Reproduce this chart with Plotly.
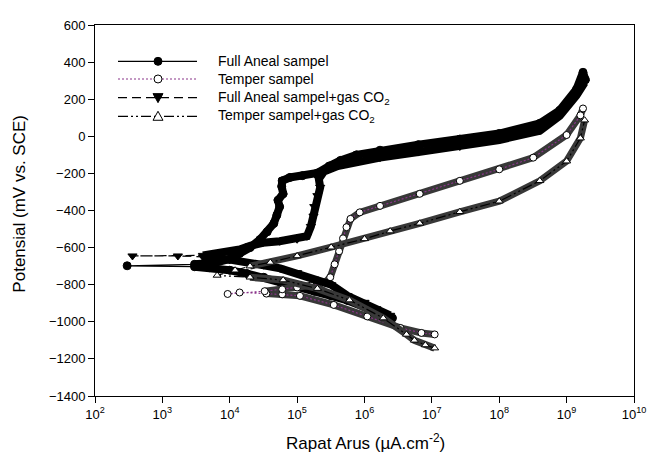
import plotly.graph_objects as go

# ---------------- data ----------------
# Current density in uA/cm^2, potential in mV vs SCE; scan order cathodic -> anodic
full_i = [2.6e6, 1.6e6, 1.0e6, 5.6e5, 3.2e5, 1.8e5, 1.0e5, 5.6e4, 3.2e4, 1.8e4, 1.0e4, 5.0e3, 3.0e3,
          3.0e2,
          3.0e3, 6.0e3, 1.0e4, 1.4e4, 2.0e4, 2.8e4, 3.6e4, 4.5e4, 5.0e4, 5.5e4, 5.2e4, 6.2e4, 5.9e4, 6.0e4,
          7.8e4, 1.2e5, 2.0e5, 3.0e5, 4.4e5, 7.6e5, 1.7e6, 6.3e6, 2.6e7, 1.0e8, 4.0e8, 7.9e8, 1.4e9, 1.75e9, 1.9e9]
full_E = [-980, -950, -915, -885, -860, -835, -810, -785, -760, -740, -722, -708, -703,
          -698,
          -690, -682, -662, -632, -600, -557, -515, -470, -425, -380, -345, -310, -270, -240,
          -222, -212, -198, -160, -130, -100, -75, -45, -15, 15, 70, 140, 254, 345, 305]

temper_i = [1.1e7, 7.0e6, 3.4e6, 1.1e6, 3.5e5, 1.1e5, 6.0e4, 3.5e4, 1.4e4,
            9.3e3,
            3.3e4, 6.0e4, 1.0e5, 1.6e5, 2.5e5, 3.1e5, 3.6e5, 4.2e5, 4.8e5, 5.4e5, 6.2e5, 8.5e5, 1.7e6,
            6.6e6, 2.6e7, 1.0e8, 3.2e8, 1.0e9, 1.6e9, 1.75e9]
temper_E = [-1068, -1060, -1033, -971, -909, -860, -852, -848, -842,
            -850,
            -835, -825, -815, -805, -795, -760, -690, -620, -550, -490, -445, -410, -375,
            -310, -240, -178, -115, 7, 113, 150]

fco2_i = [2.4e6, 1.5e6, 1.0e6, 5.6e5, 3.2e5, 1.8e5, 1.0e5, 5.6e4, 3.2e4, 2.0e4, 1.0e4, 6.0e3, 4.0e3, 1.7e3,
          3.6e2,
          4.0e3, 8.0e3, 1.4e4, 2.0e4, 3.1e4, 5.5e4, 1.0e5, 1.4e5, 1.6e5, 1.75e5, 1.8e5, 2.0e5, 2.2e5, 2.1e5,
          2.5e5, 4.0e5, 8.0e5, 1.7e6, 6.3e6, 2.6e7, 1.0e8, 4.0e8, 7.9e8, 1.4e9, 1.85e9]
fco2_E = [-965, -930, -895, -860, -800, -770, -735, -712, -695, -680, -665, -655, -650, -645,
          -645,
          -642, -630, -610, -590, -574, -566, -555, -539, -486, -430, -379, -320, -275, -230,
          -190, -160, -135, -115, -85, -55, -20, 30, 110, 220, 290]

tco2_i = [1.1e7, 8.0e6, 5.5e6, 4.2e6, 1.9e6, 6.0e5, 2.0e5, 6.2e4, 2.0e4,
          6.5e3,
          1.2e4, 2.0e4, 4.0e4, 1.0e5, 3.2e5, 1.0e6, 2.4e6, 6.6e6, 2.6e7, 1.0e8, 4.0e8, 1.0e9, 1.6e9, 1.85e9]
tco2_E = [-1142, -1125, -1100, -1068, -980, -883, -821, -775, -760,
          -750,
          -722, -700, -680, -645, -598, -553, -511, -469, -407, -350, -240, -134, -10, 87]

series_names = ["Full Aneal sampel", "Temper sampel",
                "Full Aneal sampel+gas CO<sub>2</sub>", "Temper sampel+gas CO<sub>2</sub>"]

x_tick_vals = [1e2, 1e3, 1e4, 1e5, 1e6, 1e7, 1e8, 1e9, 1e10]
x_tick_text = ["10<sup>2</sup>", "10<sup>3</sup>", "10<sup>4</sup>", "10<sup>5</sup>", "10<sup>6</sup>",
               "10<sup>7</sup>", "10<sup>8</sup>", "10<sup>9</sup>", "10<sup>10</sup>"]
y_tick_vals = [600, 400, 200, 0, -200, -400, -600, -800, -1000, -1200, -1400]

# ---------------- style ----------------
FONT = "Liberation Sans, Arial, sans-serif"
W, H = 661, 463
OFF = 8                      # page body margin offset
PL, PR, PT, PB = 95, 634, 18, 396   # plot area in page pixels
ML, MT = PL - OFF, PT - OFF
MR = W + OFF - PR
MB = H + OFF - PB
PW, PH = PR - PL, PB - PT

styles = [
    dict(sym="circle", dash="solid", lcolor="black", band="black", bw=8, thr=3e3),
    dict(sym="circle-open", dash="2px,2px", lcolor="#8a348a", band="#383838", bw=7, thr=3e4),
    dict(sym="triangle-down", dash="9px,5px", lcolor="black", band="black", bw=8, thr=4e3),
    dict(sym="triangle-up-open", dash="10px,3px,2px,3px,2px,3px", lcolor="black", band="#383838", bw=7, thr=1.5e4),
]
data = [(full_i, full_E), (temper_i, temper_E), (fco2_i, fco2_E), (tco2_i, tco2_E)]


def dense_part(xs, ys, thr):
    bx, by = [], []
    for x, y in zip(xs, ys):
        if x >= thr:
            bx.append(x)
            by.append(y)
        elif bx and bx[-1] is not None:
            bx.append(None)
            by.append(None)
    return bx, by


fig = go.Figure()
for (xs, ys), st, name in zip(data, styles, series_names):
    bx, by = dense_part(xs, ys, st["thr"])
    fig.add_trace(go.Scatter(x=bx, y=by, mode="lines", showlegend=False, hoverinfo="skip",
                             line=dict(color=st["band"], width=st["bw"]), connectgaps=False))
    open_sym = "open" in st["sym"]
    fig.add_trace(go.Scatter(
        x=xs, y=ys, mode="lines+markers", name=name, showlegend=False,
        line=dict(color=st["lcolor"], width=1.2, dash=st["dash"]),
        marker=dict(symbol=st["sym"].replace("-open", "") if open_sym else st["sym"],
                    size=8 if not open_sym else 7, color="white" if open_sym else "black",
                    line=dict(color="black", width=1))))

# ---------------- manual legend ----------------
def pxx(p):
    return (p - PL) / PW


def pxy(p):
    return (PB - p) / PH


rows = [55, 73, 92, 111]
shapes = []
annotations = []
tri_down = "M -5,4 L 5,4 L 0,-5 Z"
tri_up = "M -5,-4 L 5,-4 L 0,5 Z"
for r, st, name in zip(rows, styles, series_names):
    shapes.append(dict(type="line", xref="paper", yref="paper", x0=pxx(118), x1=pxx(197),
                       y0=pxy(r), y1=pxy(r), line=dict(color=st["lcolor"], width=1.2, dash=st["dash"])))
    fillc = "white" if "open" in st["sym"] else "black"
    if "circle" in st["sym"]:
        shapes.append(dict(type="circle", xref="paper", yref="paper", xsizemode="pixel", ysizemode="pixel",
                           xanchor=pxx(158), yanchor=pxy(r), x0=-4, x1=4, y0=-4, y1=4,
                           fillcolor=fillc, line=dict(color="black", width=1)))
    else:
        shapes.append(dict(type="path", xref="paper", yref="paper", xsizemode="pixel", ysizemode="pixel",
                           xanchor=pxx(158), yanchor=pxy(r),
                           path=tri_down if "down" in st["sym"] else tri_up,
                           fillcolor=fillc, line=dict(color="black", width=1)))
    annotations.append(dict(text=name, xref="paper", yref="paper", x=pxx(216), y=pxy(r),
                            xanchor="left", yanchor="middle", showarrow=False,
                            font=dict(family=FONT, size=14, color="black")))

# axis titles
annotations.append(dict(text="Rapat Arus (\u00b5A.cm<sup>-2</sup>)", xref="paper", yref="paper",
                        x=pxx(365), y=pxy(443), xanchor="center", yanchor="middle", showarrow=False,
                        font=dict(family=FONT, size=17, color="black")))
annotations.append(dict(text="Potensial (mV vs. SCE)", xref="paper", yref="paper",
                        x=pxx(20), y=pxy(200), xanchor="center", yanchor="middle", showarrow=False,
                        textangle=-90, font=dict(family=FONT, size=17, color="black")))

fig.update_layout(
    width=W, height=H, margin=dict(l=ML, r=MR, t=MT, b=MB),
    paper_bgcolor="white", plot_bgcolor="white",
    font=dict(family=FONT, size=13, color="black"),
    shapes=shapes, annotations=annotations, showlegend=False,
    xaxis=dict(type="log", range=[2, 10], tickvals=x_tick_vals, ticktext=x_tick_text,
               ticks="outside", ticklen=6, tickcolor="black", showline=True, mirror=True,
               linecolor="black", linewidth=1, showgrid=False, zeroline=False,
               tickfont=dict(family=FONT, size=13)),
    yaxis=dict(range=[-1400, 600], tickvals=y_tick_vals, ticks="outside", ticklen=6,
               tickcolor="black", showline=True, mirror=True, linecolor="black", linewidth=1,
               showgrid=False, zeroline=False, tickfont=dict(family=FONT, size=13)),
)

fig.write_html("out.html")
